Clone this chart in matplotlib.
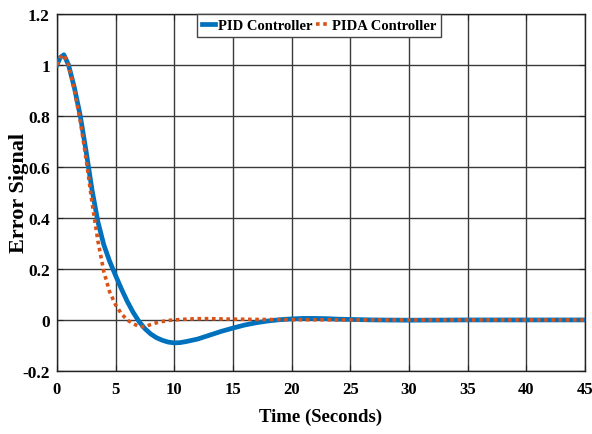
import matplotlib
matplotlib.use("Agg")
import matplotlib.pyplot as plt

# Data
t_pid = [0, 0.3, 0.6, 1.0, 1.5, 2.0, 2.5, 3.0, 3.5, 4.0, 4.5, 5.0, 5.5, 6.0, 6.5,
         7.0, 7.5, 8.0, 8.5, 9.0, 9.5, 10, 10.5, 11, 12, 13, 14, 15, 16, 17, 18,
         19, 20, 21, 22, 23, 24, 25, 27, 30, 35, 45]
e_pid = [1.0, 1.03, 1.04, 1.0, 0.91, 0.80, 0.66, 0.51, 0.385, 0.295, 0.23, 0.175,
         0.122, 0.073, 0.03, -0.006, -0.034, -0.055, -0.07, -0.08, -0.087, -0.09,
         -0.089, -0.085, -0.075, -0.06, -0.045, -0.032, -0.02, -0.011, -0.004,
         0.001, 0.004, 0.006, 0.006, 0.005, 0.003, 0.002, 0.0, -0.001, 0.0, 0.0]

t_pida = [0, 0.3, 0.6, 1.0, 1.5, 2.0, 2.5, 3.0, 3.5, 4.0, 4.5, 5.0, 5.5, 6.0,
          6.5, 7.0, 7.5, 8.0, 8.5, 9.0, 9.5, 10, 11, 12, 13, 14, 15, 17, 20, 25, 45]
e_pida = [1.0, 1.03, 1.04, 1.0, 0.90, 0.78, 0.63, 0.46, 0.31, 0.19, 0.11, 0.06,
          0.024, 0.0, -0.015, -0.025, -0.027, -0.018, -0.011, -0.006, -0.002,
          0.0, 0.003, 0.005, 0.005, 0.004, 0.003, 0.002, 0.001, 0.0, 0.0]

x_ticks = [0, 5, 10, 15, 20, 25, 30, 35, 40, 45]
y_ticks = [-0.2, 0, 0.2, 0.4, 0.6, 0.8, 1.0, 1.2]
y_labels = ["-0.2", "0", "0.2", "0.4", "0.6", "0.8", "1", "1.2"]

plt.rcParams['font.family'] = ['Liberation Serif', 'DejaVu Serif']
plt.rcParams['font.weight'] = 'bold'

fig = plt.figure(figsize=(5.92, 4.35), dpi=100)
ax = fig.add_axes([0.096, 0.145, 0.892, 0.8205])

ax.plot(t_pid, e_pid, color='#0072BD', lw=3.4, label='PID Controller', zorder=3)
ax.plot(t_pida, e_pida, color='#D95319', lw=2.6, ls=(0, (1, 1)),
        label='PIDA Controller', zorder=4)

ax.set_xlim(0, 45)
ax.set_ylim(-0.2, 1.2)
ax.set_xticks(x_ticks)
ax.set_yticks(y_ticks)
ax.set_yticklabels(y_labels)
ax.grid(True, color='#3a3a3a', lw=1.0)
ax.set_axisbelow(True)
ax.tick_params(direction='in', top=True, right=True, labelsize=12.5, length=4,
               color='#222222')
ax.tick_params(axis='x', pad=7, labelsize=12)
ax.tick_params(axis='y', pad=5)
for lab in ax.get_xticklabels() + ax.get_yticklabels():
    lab.set_fontweight('bold')
for s in ax.spines.values():
    s.set_color('#222222')
    s.set_linewidth(1.0)

ax.set_xlabel('Time (Seconds)', fontsize=13.5, fontweight='bold', labelpad=8)
ax.set_ylabel('Error Signal', fontsize=16, fontweight='bold')
ax.yaxis.set_label_coords(-0.053, 0.5)

leg = ax.legend(loc='upper center', ncol=2, bbox_to_anchor=(0.497, 1.0),
                frameon=True, fancybox=False, framealpha=1,
                handlelength=0.9, handletextpad=0.2, columnspacing=0.2,
                borderpad=0.35, borderaxespad=0.0,
                prop={'weight': 'bold', 'size': 10.5})
leg.get_frame().set_edgecolor('#444444')
leg.get_frame().set_linewidth(1.0)

fig.savefig('out.png', dpi=100)
